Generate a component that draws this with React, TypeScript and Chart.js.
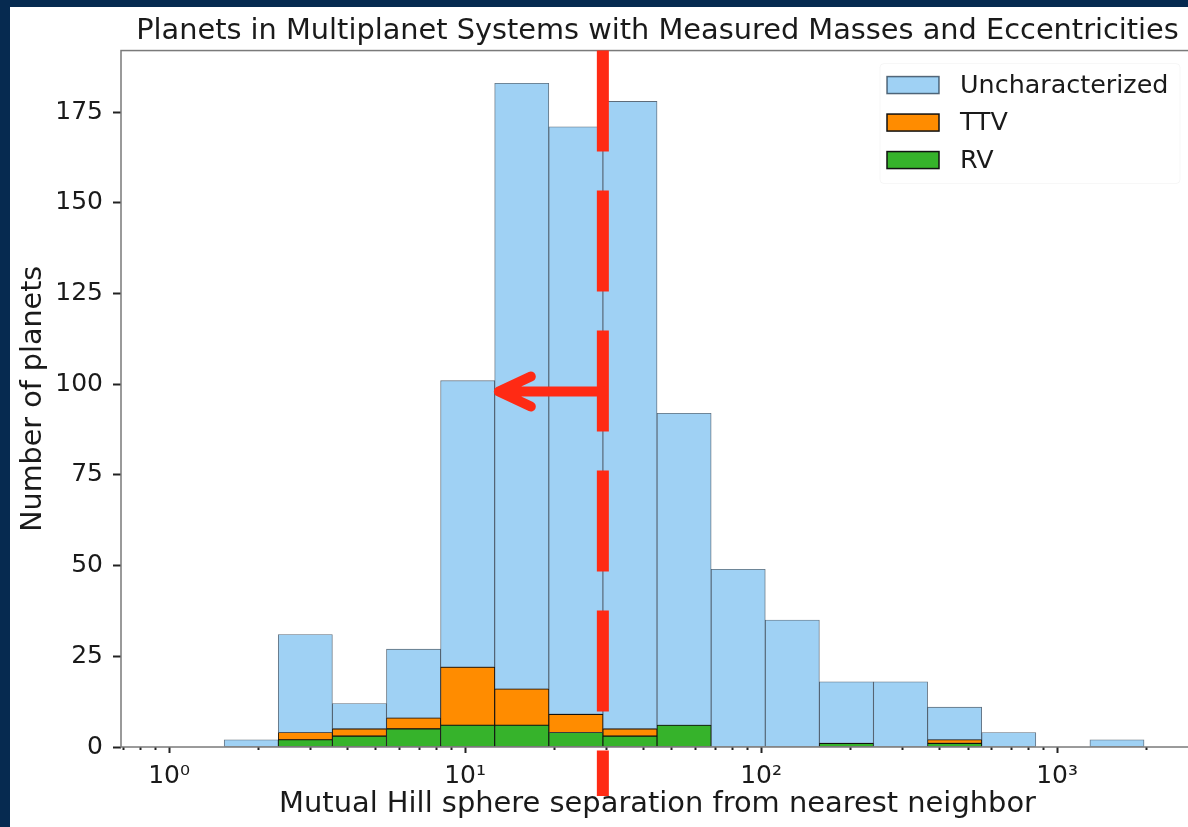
import React, { useEffect, useRef } from 'react';
import { Chart, registerables } from 'chart.js';

Chart.register(...registerables);

// ---- data ----
const BIN_EDGES = [1.535, 2.338, 3.562, 5.425, 8.266, 12.59, 19.18, 29.22, 44.51, 67.8, 103.3, 157.3, 239.7, 365.1, 556.2, 847.2, 1290.6, 1966];
const RV = [0, 2, 3, 5, 6, 6, 4, 3, 6, 0, 0, 1, 0, 1, 0, 0, 0];
const TTV = [0, 2, 2, 3, 16, 10, 5, 2, 0, 0, 0, 0, 0, 1, 0, 0, 0];
const UNCHARACTERIZED = [2, 27, 7, 19, 79, 167, 162, 173, 86, 49, 35, 17, 18, 9, 4, 0, 2];
const SERIES_NAMES = ['RV', 'TTV', 'Uncharacterized'];
const Y_TICKS = [0, 25, 50, 75, 100, 125, 150, 175];
const X_DECADES = [0.1, 1, 10, 100, 1000];
const X_DECADE_LABELS = ['10⁻¹', '10⁰', '10¹', '10²', '10³'];
const X_MINOR_MULTIPLIERS = [2, 3, 4, 5, 6, 7, 8, 9];
const X_MIN = 0.688;
const X_MAX = 2900;
const Y_MIN = 0;
const Y_MAX = 192;
const CUTOFF_X = 29.2;
const ARROW_Y = 98;
const ARROW_TIP_X = 13.0;
const TITLE = 'Planets in Multiplanet Systems with Measured Masses and Eccentricities';
const X_TITLE = 'Mutual Hill sphere separation from nearest neighbor';
const Y_TITLE = 'Number of planets';

// ---- styles ----
const FONT = "'DejaVu Sans', sans-serif";
const TEXT = '#1a1a1a';
const COLORS = ['#36b32b', '#ff8c00', '#9fd1f4'];
const EDGES = ['#111111', '#111111', 'rgba(25,45,65,0.7)'];
const RED = '#ff2a14';

const centers = BIN_EDGES.slice(0, -1).map((e, i) => Math.sqrt(e * BIN_EDGES[i + 1]));
const seriesValues = [RV, TTV, UNCHARACTERIZED];

const xTickValues: number[] = [];
X_DECADES.forEach((d) => {
  [1, ...X_MINOR_MULTIPLIERS].forEach((m) => {
    const v = d * m;
    if (v >= X_MIN && v <= X_MAX) xTickValues.push(v);
  });
});

const decadeIndex = (v: number) => X_DECADES.findIndex((d) => Math.abs(d - v) < d * 1e-6);

const spinesPlugin = {
  id: 'spines',
  afterDatasetsDraw(chart: any) {
    const { ctx, chartArea } = chart;
    ctx.save();
    ctx.strokeStyle = '#7a7a7a';
    ctx.lineWidth = 1.5;
    ctx.strokeRect(chartArea.left, chartArea.top, chartArea.right - chartArea.left, chartArea.bottom - chartArea.top);
    ctx.restore();
  },
};

const annotationPlugin = {
  id: 'redAnnotation',
  afterDatasetsDraw(chart: any) {
    const { ctx, chartArea, scales } = chart;
    const x = scales.x.getPixelForValue(CUTOFF_X);
    const ay = scales.y.getPixelForValue(ARROW_Y);
    const tip = scales.x.getPixelForValue(ARROW_TIP_X);
    ctx.save();
    ctx.strokeStyle = RED;
    ctx.lineWidth = 12;
    ctx.lineCap = 'butt';
    ctx.setLineDash([101, 39]);
    ctx.beginPath();
    ctx.moveTo(x, chartArea.top);
    ctx.lineTo(x, chartArea.bottom + 49);
    ctx.stroke();
    ctx.setLineDash([]);
    ctx.lineWidth = 10;
    ctx.lineCap = 'round';
    ctx.lineJoin = 'round';
    ctx.beginPath();
    ctx.moveTo(x, ay);
    ctx.lineTo(tip, ay);
    ctx.moveTo(tip + 32, ay - 15);
    ctx.lineTo(tip, ay);
    ctx.lineTo(tip + 32, ay + 15);
    ctx.stroke();
    ctx.restore();
  },
};

const insideLegendPlugin = {
  id: 'insideLegend',
  afterDraw(chart: any) {
    const { ctx, chartArea } = chart;
    const items = chart.data.datasets.slice().reverse();
    const fx = chartArea.right - 314;
    const fy = chartArea.top + 13;
    ctx.save();
    ctx.fillStyle = 'rgba(255,255,255,0.8)';
    ctx.strokeStyle = 'rgba(0,0,0,0.035)';
    ctx.lineWidth = 1;
    ctx.beginPath();
    ctx.roundRect(fx, fy, 300, 120, 4);
    ctx.fill();
    ctx.stroke();
    items.forEach((ds: any, i: number) => {
      const cy = chartArea.top + 34.5 + i * 37.5;
      const bx = chartArea.right - 307;
      ctx.fillStyle = ds.backgroundColor;
      ctx.fillRect(bx, cy - 8.5, 52, 17);
      ctx.strokeStyle = ds.borderColor;
      ctx.lineWidth = 1.5;
      ctx.strokeRect(bx, cy - 8.5, 52, 17);
      ctx.fillStyle = TEXT;
      ctx.font = `25.4px ${FONT}`;
      ctx.textBaseline = 'middle';
      ctx.textAlign = 'left';
      ctx.fillText(ds.label, bx + 73, cy + 1);
    });
    ctx.restore();
  },
};

export default function App() {
  const canvasRef = useRef<HTMLCanvasElement | null>(null);

  useEffect(() => {
    if (!canvasRef.current) return;
    const chart = new Chart(canvasRef.current, {
      type: 'bar',
      data: {
        datasets: SERIES_NAMES.map((name, k) => ({
          label: name,
          data: centers.map((c, i) => ({ x: c, y: seriesValues[k][i] })),
          backgroundColor: COLORS[k],
          borderColor: EDGES[k],
          borderWidth: 0.9,
          borderSkipped: false,
          barThickness: 'flex',
          barPercentage: 1,
          categoryPercentage: 1,
        })),
      } as any,
      options: {
        responsive: false,
        animation: false,
        layout: { padding: { left: 0, right: 6, top: 0, bottom: 0 } },
        plugins: {
          legend: { display: false },
          tooltip: { enabled: false },
          title: {
            display: true,
            text: TITLE,
            color: TEXT,
            font: { family: FONT, size: 28.8, weight: 'normal' },
            padding: { top: 7, bottom: 2 },
            fullSize: false,
          } as any,
        },
        scales: {
          x: {
            type: 'logarithmic',
            min: X_MIN,
            max: X_MAX,
            stacked: true,
            offset: false,
            afterBuildTicks: (scale: any) => {
              scale.ticks = xTickValues.map((v) => ({ value: v, major: decadeIndex(v) >= 0 }));
            },
            afterFit: (scale: any) => {
              scale.height = 80;
            },
            grid: {
              display: true,
              drawOnChartArea: false,
              drawTicks: true,
              offset: false,
              tickLength: 6,
              tickColor: '#222',
              tickWidth: 2,
              tickBorderDash: (c: any) => (c.tick && decadeIndex(c.tick.value) >= 0 ? [] : [3, 20]),
            },
            border: { display: false },
            ticks: {
              autoSkip: false,
              maxRotation: 0,
              minRotation: 0,
              padding: 8,
              color: TEXT,
              font: { family: FONT, size: 25 },
              callback: (v: any) => {
                const k = decadeIndex(Number(v));
                return k >= 0 ? X_DECADE_LABELS[k] : '';
              },
            },
            title: {
              display: true,
              text: X_TITLE,
              color: TEXT,
              font: { family: FONT, size: 28.9 },
              padding: { top: 0, bottom: 5 },
            },
          } as any,
          y: {
            type: 'linear',
            min: Y_MIN,
            max: Y_MAX,
            stacked: true,
            afterBuildTicks: (scale: any) => {
              scale.ticks = Y_TICKS.map((v) => ({ value: v }));
            },
            afterFit: (scale: any) => {
              scale.width = 111;
            },
            grid: {
              display: true,
              drawOnChartArea: false,
              drawTicks: true,
              tickLength: 8,
              tickColor: '#222',
              tickWidth: 2,
            },
            border: { display: false },
            ticks: {
              padding: 10,
              color: TEXT,
              font: { family: FONT, size: 25 },
            },
            title: {
              display: true,
              text: Y_TITLE,
              color: TEXT,
              font: { family: FONT, size: 28.6 },
              padding: { top: 6.5, bottom: 0 },
            },
          } as any,
        },
      },
      plugins: [spinesPlugin, annotationPlugin, insideLegendPlugin],
    });
    return () => chart.destroy();
  }, []);

  return (
    <div
      style={{
        position: 'fixed',
        left: 0,
        top: 0,
        width: 1188,
        height: 827,
        overflow: 'hidden',
        background: '#062a50',
      }}
    >
      <canvas
        ref={canvasRef}
        width={1190}
        height={820}
        style={{ position: 'absolute', left: 10, top: 7, background: '#ffffff', display: 'block' }}
      />
    </div>
  );
}
